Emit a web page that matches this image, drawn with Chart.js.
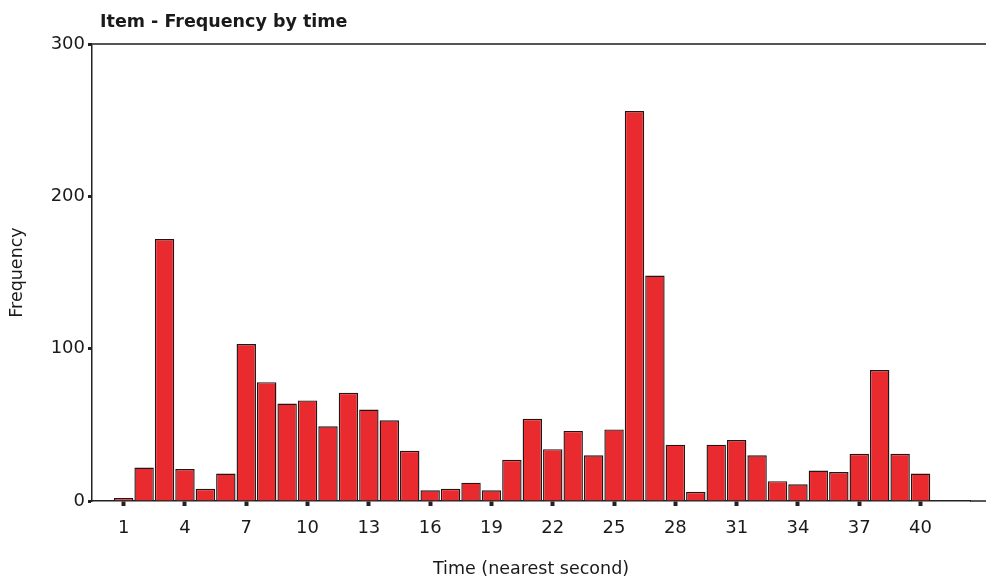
<!DOCTYPE html>
<html>
<head>
<meta charset="utf-8">
<script src="https://cdn.jsdelivr.net/npm/chart.js@4.4.1/dist/chart.umd.min.js"></script>
<style>
  html, body { margin: 0; padding: 0; background: #fff; }
  #wrap { position: relative; width: 986px; height: 581px; }
  #title {
    position: absolute; left: 100px; top: 13px;
    font: bold 17.5px "DejaVu Sans", sans-serif; line-height: 17px;
    color: #1a1a1a; white-space: nowrap;
  }
  canvas { display: block; }
</style>
</head>
<body>
<div id="wrap">
  <canvas id="c" width="986" height="581"></canvas>
  <div id="title">Item - Frequency by time</div>
</div>
<script>
// Time in whole seconds and how many items fell into each second
const seconds = [1, 2, 3, 4, 5, 6, 7, 8, 9, 10, 11, 12, 13, 14, 15, 16, 17, 18, 19, 20,
                 21, 22, 23, 24, 25, 26, 27, 28, 29, 30, 31, 32, 33, 34, 35, 36, 37, 38, 39, 40];
const frequency = [2, 22, 172, 21, 8, 18, 103, 78, 64, 66, 49, 71, 60, 53, 33, 7, 8, 12, 7, 27,
                   54, 34, 46, 30, 47, 256, 148, 37, 6, 37, 40, 30, 13, 11, 20, 19, 31, 86, 31, 18];
const xTickValues = [1, 4, 7, 10, 13, 16, 19, 22, 25, 28, 31, 34, 37, 40];
const yTickValues = [0, 100, 200, 300];

const FONT = '"DejaVu Sans", sans-serif';
const INK = '#1a1a1a';

// Extends the frame: a top rule and the x axis line run on to the canvas edge
const frameLines = {
  id: 'frameLines',
  afterDraw(chart) {
    const { ctx, chartArea: { left, right, top, bottom } } = chart;
    ctx.save();
    ctx.strokeStyle = '#555';
    ctx.lineWidth = 2;
    ctx.beginPath();
    ctx.moveTo(left, top);
    ctx.lineTo(chart.width, top);
    ctx.stroke();
    ctx.strokeStyle = '#222';
    ctx.lineWidth = 1.5;
    ctx.beginPath();
    ctx.moveTo(right, bottom);
    ctx.lineTo(chart.width, bottom);
    ctx.stroke();
    ctx.restore();
  }
};

new Chart(document.getElementById('c'), {
  type: 'bar',
  data: {
    datasets: [{
      label: 'Frequency',
      data: seconds.map((s, i) => ({ x: s, y: frequency[i] })),
      backgroundColor: '#E92B2F',
      borderColor: '#221616',
      borderWidth: 1.4,
      categoryPercentage: 1.0,
      barPercentage: 0.95
    }]
  },
  options: {
    responsive: false,
    devicePixelRatio: 1,
    animation: false,
    layout: { padding: { top: 44, right: 16, bottom: 0, left: 0 } },
    plugins: {
      legend: { display: false },
      title: { display: false },
      tooltip: { enabled: false }
    },
    scales: {
      x: {
        type: 'linear',
        min: -0.55,
        max: 42.42,
        offset: false,
        afterFit(scale) { scale.height = 80; },
        afterBuildTicks(scale) { scale.ticks = xTickValues.map(v => ({ value: v })); },
        ticks: {
          autoSkip: false,
          maxRotation: 0,
          padding: 12,
          color: INK,
          font: { family: FONT, size: 18 },
          callback: v => String(v)
        },
        grid: {
          offset: false,
          drawOnChartArea: false,
          drawTicks: true,
          tickLength: 5,
          tickWidth: 4,
          tickColor: '#222'
        },
        border: { display: true, color: '#222', width: 1.5 },
        title: {
          display: true,
          text: 'Time (nearest second)',
          color: INK,
          font: { family: FONT, size: 17.5 },
          padding: { top: 0, bottom: 1 }
        }
      },
      y: {
        min: 0,
        max: 300,
        afterFit(scale) { scale.width = 92; },
        afterBuildTicks(scale) { scale.ticks = yTickValues.map(v => ({ value: v })); },
        ticks: {
          padding: 3,
          color: INK,
          font: { family: FONT, size: 18 }
        },
        grid: {
          drawOnChartArea: false,
          drawTicks: true,
          tickLength: 4,
          tickWidth: 3,
          tickColor: '#222'
        },
        border: { display: true, color: '#222', width: 1.5 },
        title: {
          display: true,
          text: 'Frequency',
          color: INK,
          font: { family: FONT, size: 17.5 },
          padding: { top: 7, bottom: 0 }
        }
      }
    }
  },
  plugins: [frameLines]
});
</script>
</body>
</html>
